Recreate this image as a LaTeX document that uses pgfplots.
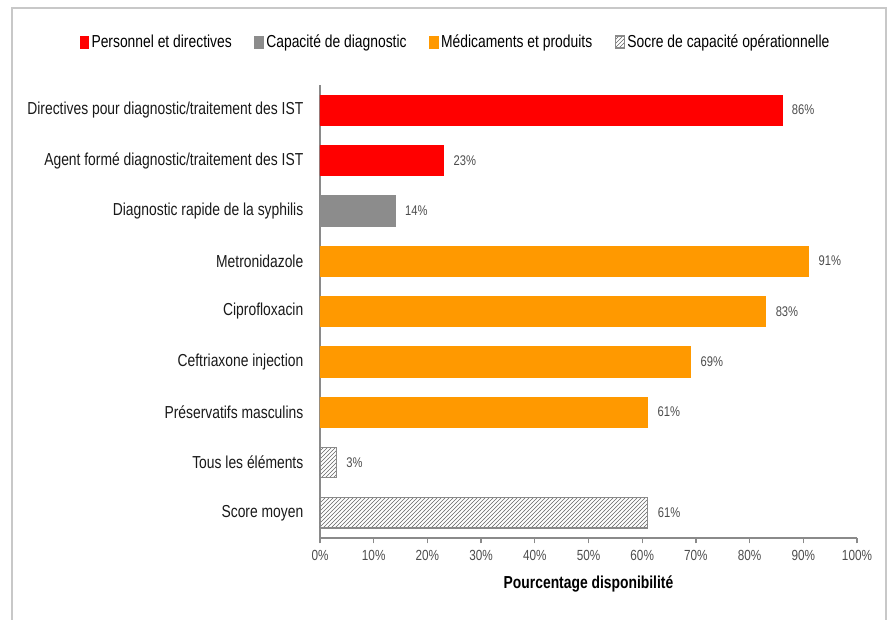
\documentclass[border=0pt]{standalone}
\usepackage{fontspec}
\setmainfont{Liberation Sans}[FakeStretch=0.8]
\usepackage{pgfplots}
\pgfplotsset{compat=1.18}
\usetikzlibrary{patterns}
\definecolor{cred}{HTML}{FF0000}
\definecolor{cgray}{HTML}{8C8C8C}
\definecolor{corange}{HTML}{FF9900}
\definecolor{caxis}{HTML}{8A8A8A}
\definecolor{cframe}{HTML}{C8C8C8}
\begin{document}
\begin{tikzpicture}
\useasboundingbox (0,0) rectangle (669.75pt,464.25pt);
\draw[cframe, line width=1.5pt] (9pt,-2pt) -- (9pt,458.25pt) -- (664.5pt,458.25pt) -- (664.5pt,-2pt);
\begin{axis}[
  at={(240pt,60.75pt)}, anchor=south west,
  scale only axis, width=402.75pt, height=339.75pt,
  xmin=0, xmax=100, ymin=-0.5, ymax=8.5,
  axis lines*=left,
  axis line style={caxis, line width=0.9pt},
  xtick={0,10,...,100},
  xticklabel={\pgfmathprintnumber{\tick}\%},
  /pgf/number format/assume math mode=true,
  xtick style={caxis, line width=0.9pt},
  tick align=outside,
  major tick length=4pt,
  ytick={0,...,8},
  yticklabels={Score moyen,Tous les éléments,Préservatifs masculins,Ceftriaxone injection,Ciprofloxacin,Metronidazole,Diagnostic rapide de la syphilis,Agent formé diagnostic/traitement des IST,Directives pour diagnostic/traitement des IST},
  ytick style={draw=none},
  yticklabel style={font=\fontsize{13}{15}\selectfont, text=black!90, xshift=-5pt},
  xticklabel style={font=\fontsize{11}{13}\selectfont, text=black!70, yshift=-2pt},
  xlabel={\textbf{Pourcentage disponibilité}},
  xlabel style={font=\fontsize{13}{15}\selectfont, yshift=-4pt},
  xbar, bar width=0.6,
  point meta=x,
  nodes near coords={\pgfmathprintnumber{\pgfplotspointmeta}\%},
  nodes near coords align={horizontal},
  every node near coord/.append style={font=\fontsize{10.5}{12}\selectfont, text=black!70, xshift=4pt},
  legend columns=4,
  legend style={draw=none, at={(0.253,1.095)}, anchor=center, font=\fontsize{13}{15}\selectfont,
    /tikz/every even column/.append style={column sep=15pt}},
  legend image code/.code={\draw[#1] (0pt,-4.5pt) rectangle (6.5pt,4.5pt);},
  legend cell align=left,
]
\addplot[bar shift=0pt, fill=cred, draw=cred] coordinates {(86,8) (23,7)};
\addlegendentry{Personnel et directives}
\addplot[bar shift=0pt, fill=cgray, draw=cgray] coordinates {(14,6)};
\addlegendentry{Capacité de diagnostic}
\addplot[bar shift=0pt, fill=corange, draw=corange] coordinates {(91,5) (83,4) (69,3) (61,2)};
\addlegendentry{Médicaments et produits}
\addplot[bar shift=0pt, draw=caxis, line width=0.9pt, pattern=north east lines, pattern color=black!60] coordinates {(3,1) (61,0)};
\addlegendentry{Socre de capacité opérationnelle}
\end{axis}
\end{tikzpicture}
\end{document}
